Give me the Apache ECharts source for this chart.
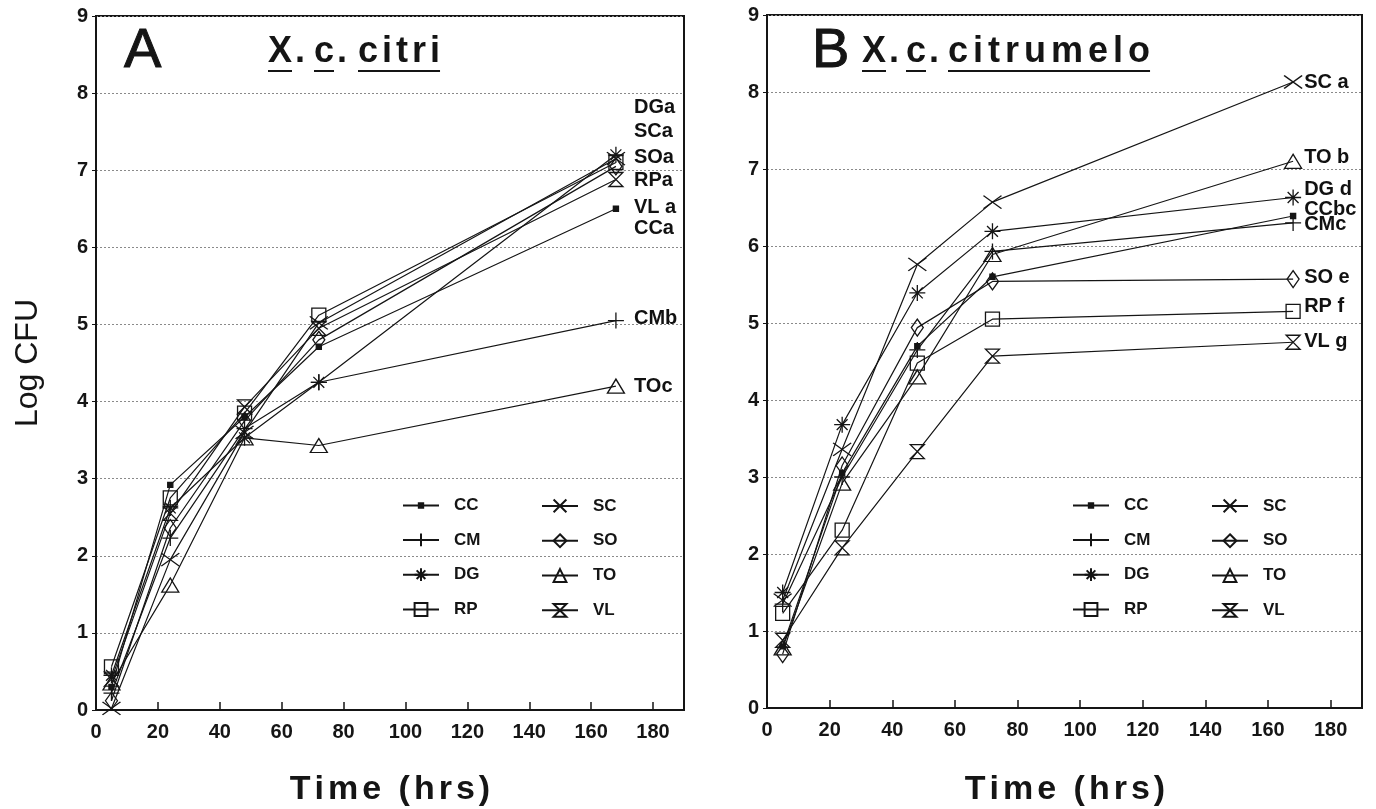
<!DOCTYPE html>
<html>
<head>
<meta charset="utf-8">
<script src="https://cdn.jsdelivr.net/npm/echarts@6/dist/echarts.min.js"></script>
<style>
  html, body { margin: 0; padding: 0; background: #fff; }
  #chart { width: 1376px; height: 809px; }
</style>
</head>
<body>
<div id="chart"></div>
<script>
// sampling times (hrs)
var times = [5, 24, 48, 72, 168]
var names = ['CC', 'CM', 'DG', 'RP', 'SC', 'SO', 'TO', 'VL']

// panel A - X. c. citri (log CFU)
var citriCC = [0.3, 2.92, 3.8, 4.71, 6.5]
var citriCM = [0.22, 2.23, 3.65, 4.25, 5.05]
var citriDG = [0.45, 2.62, 3.53, 4.25, 7.2]
var citriRP = [0.56, 2.75, 3.85, 5.12, 7.1]
var citriSC = [0.02, 1.95, 3.6, 5.02, 7.15]
var citriSO = [0.12, 2.36, 3.75, 4.8, 7.05]
var citriTO = [0.35, 1.62, 3.53, 3.43, 4.2]
var citriVL = [0.4, 2.55, 3.93, 4.95, 6.88]

// panel B - X. c. citrumelo (log CFU)
var citrumeloCC = [0.8, 3.05, 4.7, 5.6, 6.39]
var citrumeloCM = [1.35, 3.0, 4.65, 5.93, 6.3]
var citrumeloDG = [1.5, 3.68, 5.39, 6.19, 6.63]
var citrumeloRP = [1.23, 2.31, 4.48, 5.05, 5.15]
var citrumeloSC = [1.4, 3.36, 5.76, 6.57, 8.13]
var citrumeloSO = [0.7, 3.15, 4.94, 5.54, 5.57]
var citrumeloTO = [0.78, 2.92, 4.3, 5.89, 7.1]
var citrumeloVL = [0.88, 2.08, 3.33, 4.57, 4.75]

// significance labels at 168 h
var labelsA = ['DGa', 'SCa', 'SOa', 'RPa', 'VL a', 'CCa', 'CMb', 'TOc']
var labelYA = [7.82, 7.5, 7.17, 6.87, 6.52, 6.25, 5.08, 4.19]
var labelsB = ['SC a', 'TO b', 'DG d', 'CCbc', 'CMc', 'SO e', 'RP f', 'VL g']
var labelYB = [8.13, 7.15, 6.74, 6.48, 6.28, 5.59, 5.21, 4.76]

var xTicks = { min: 0, max: 190, interval: 20 }
var yTicks = { min: 0, max: 9, interval: 1 }

var panelA = [citriCC, citriCM, citriDG, citriRP, citriSC, citriSO, citriTO, citriVL]
var panelB = [citrumeloCC, citrumeloCM, citrumeloDG, citrumeloRP, citrumeloSC, citrumeloSO, citrumeloTO, citrumeloVL]

var ink = '#151515'
var font = '"Liberation Sans", Arial, sans-serif'
var titleFont = 'bold 36px ' + font
var nameFont = 'bold 34px ' + font

var markers = {
  CC: { symbol: 'path://M0,0M10,10M3.3,3.3L6.7,3.3L6.7,6.7L3.3,6.7Z', size: 15, fill: ink },
  CM: { symbol: 'path://M5,0L5,10M0,5L10,5', size: 16, fill: 'none' },
  DG: { symbol: 'path://M5,0L5,10M0,5L10,5M1.6,1.6L8.4,8.4M8.4,1.6L1.6,8.4', size: 16, fill: 'none' },
  RP: { symbol: 'rect', size: 14, fill: 'none' },
  SC: { symbol: 'path://M0,0L10,10M10,0L0,10', size: [18, 13], fill: 'none' },
  SO: { symbol: 'diamond', size: [12, 17], fill: 'none' },
  TO: { symbol: 'triangle', size: [17, 14], fill: 'none' },
  VL: { symbol: 'path://M0,0L10,0L0,10L10,10Z', size: 14, fill: 'none' }
}

var measureCtx = document.createElement('canvas').getContext('2d')

function charWidths(text, f) {
  measureCtx.font = f
  return text.split('').map(function (ch) { return measureCtx.measureText(ch).width })
}

function textWidth(text, f, spacing) {
  var w = charWidths(text, f)
  return w.reduce(function (a, b) { return a + b }, 0) + spacing * (w.length - 1)
}

// letter-spaced text, built char by char
function spacedText(x, y, text, f, spacing, center) {
  var w = charWidths(text, f)
  var cx = center ? x - textWidth(text, f, spacing) / 2 : x
  var children = []
  text.split('').forEach(function (ch, i) {
    children.push({ type: 'text', x: cx, y: y, style: { text: ch, font: f, fill: ink, verticalAlign: 'middle' } })
    cx += w[i] + spacing
  })
  return { type: 'group', children: children }
}

function underline(x, text, spacing) {
  return {
    type: 'line',
    shape: { x1: x, y1: 71, x2: x + textWidth(text, titleFont, spacing), y2: 71 },
    style: { stroke: ink, lineWidth: 2 }
  }
}

function lineSeries(idx, name, values) {
  var m = markers[name]
  return {
    type: 'line',
    name: name,
    xAxisIndex: idx,
    yAxisIndex: idx,
    data: times.map(function (t, i) { return [t, values[i]] }),
    symbol: m.symbol,
    symbolSize: m.size,
    showAllSymbol: true,
    lineStyle: { color: ink, width: 1.2 },
    itemStyle: { color: m.fill, borderColor: ink, borderWidth: 1.3 },
    emphasis: { disabled: true },
    z: 3
  }
}

function labelSeries(idx, texts, ys, dist) {
  return {
    type: 'scatter',
    xAxisIndex: idx,
    yAxisIndex: idx,
    silent: true,
    symbol: 'circle',
    symbolSize: 0.1,
    itemStyle: { color: ink, opacity: 1 },
    data: texts.map(function (s, i) { return [168, ys[i], s] }),
    label: {
      show: true,
      position: 'right',
      distance: dist,
      formatter: function (p) { return p.value[2] },
      fontFamily: font,
      fontWeight: 'bold',
      fontSize: 20,
      color: '#111'
    },
    z: 4
  }
}

function xAxis(idx) {
  return {
    type: 'value',
    gridIndex: idx,
    min: xTicks.min,
    max: xTicks.max,
    interval: xTicks.interval,
    axisLine: { lineStyle: { color: ink, width: 2 } },
    axisTick: { inside: true, length: 8, lineStyle: { color: ink, width: 1.5 } },
    axisLabel: { color: ink, fontFamily: font, fontWeight: 'bold', fontSize: 20, margin: 12, showMaxLabel: false },
    splitLine: { show: false }
  }
}

function yAxis(idx) {
  var ax = {
    type: 'value',
    gridIndex: idx,
    min: yTicks.min,
    max: yTicks.max,
    interval: yTicks.interval,
    axisLine: { show: true, lineStyle: { color: ink, width: 2 } },
    axisTick: { show: true, inside: false, length: 4, lineStyle: { color: ink } },
    axisLabel: { color: ink, fontFamily: font, fontWeight: 'bold', fontSize: 20, margin: 8 },
    splitLine: { show: true, lineStyle: { color: '#8a8a8a', type: [2, 2], width: 1 } }
  }
  if (idx == 0) {
    ax.name = 'Log CFU'
    ax.nameLocation = 'middle'
    ax.nameGap = 52
    ax.nameTextStyle = { color: ink, fontFamily: font, fontSize: 32 }
  }
  return ax
}

function legend(left, top, data) {
  return {
    left: left,
    top: top,
    orient: 'vertical',
    selectedMode: false,
    data: data,
    itemWidth: 36,
    itemHeight: 16,
    itemGap: 17,
    textStyle: { color: ink, fontFamily: font, fontWeight: 'bold', fontSize: 17, padding: [0, 0, 0, 10] }
  }
}

function panelLetter(x, text) {
  return {
    type: 'text',
    x: x,
    y: 52,
    style: { text: text, font: '56px ' + font, fill: ink, stroke: ink, lineWidth: 1, verticalAlign: 'middle' }
  }
}

var series = []
names.forEach(function (n, i) {
  series.push(lineSeries(0, n, panelA[i]))
  series.push(lineSeries(1, n, panelB[i]))
})
series.push(labelSeries(0, labelsA, labelYA, 18))
series.push(labelSeries(1, labelsB, labelYB, 11))

var myChart = echarts.init(document.getElementById('chart'))
var option = {
  animation: false,
  backgroundColor: '#fff',
  grid: [
    { left: 96, top: 16, width: 588, height: 694, show: true, borderColor: ink, borderWidth: 2 },
    { left: 767, top: 15, width: 595, height: 693, show: true, borderColor: ink, borderWidth: 2 }
  ],
  xAxis: [xAxis(0), xAxis(1)],
  yAxis: [yAxis(0), yAxis(1)],
  legend: [
    legend(397, 492, ['CC', 'CM', 'DG', 'RP']),
    legend(536, 492, ['SC', 'SO', 'TO', 'VL']),
    legend(1067, 492, ['CC', 'CM', 'DG', 'RP']),
    legend(1206, 492, ['SC', 'SO', 'TO', 'VL'])
  ],
  graphic: [
    panelLetter(124, 'A'),
    spacedText(268, 52, 'X.', titleFont, 3),
    spacedText(314, 52, 'c.', titleFont, 3),
    spacedText(358, 52, 'citri', titleFont, 4),
    underline(268, 'X', 3), underline(314, 'c', 3), underline(358, 'citri', 4),
    panelLetter(812, 'B'),
    spacedText(862, 52, 'X.', titleFont, 3),
    spacedText(906, 52, 'c.', titleFont, 3),
    spacedText(948, 52, 'citrumelo', titleFont, 5),
    underline(862, 'X', 3), underline(906, 'c', 3), underline(948, 'citrumelo', 5),
    spacedText(390, 790, 'Time (hrs)', nameFont, 4, true),
    spacedText(1065, 790, 'Time (hrs)', nameFont, 4, true)
  ],
  series: series
}
myChart.setOption(option)
</script>
</body>
</html>
